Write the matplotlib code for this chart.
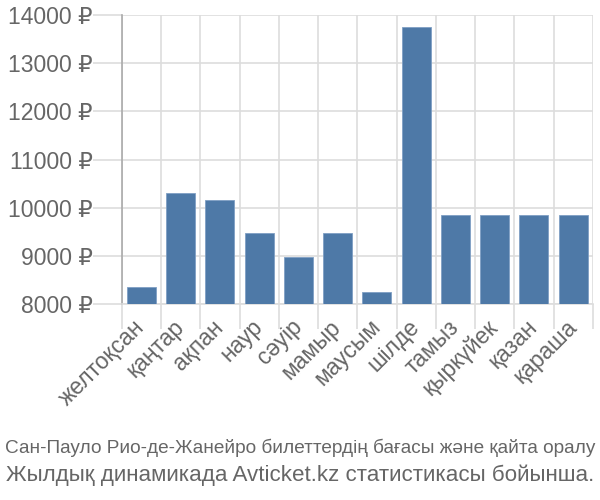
import numpy as np
import matplotlib.pyplot as plt

# Months and average prices (rubles)
months = ["желтоқсан", "қаңтар", "ақпан", "наур", "сәуір", "мамыр",
          "маусым", "шілде", "тамыз", "қыркүйек", "қазан", "қараша"]
prices = [8350, 10300, 10160, 9470, 8980, 9470,
          8250, 13750, 9850, 9850, 9850, 9850]
yticks = [8000, 9000, 10000, 11000, 12000, 13000, 14000]
caption = ["Сан-Пауло Рио-де-Жанейро билеттердің бағасы және қайта оралу",
           "Жылдық динамикада Avticket.kz статистикасы бойынша."]

plt.rcParams['font.family'] = ['Liberation Sans', 'DejaVu Sans']
text_color = '#666666'
grid_color = '#dddddd'

fig = plt.figure(figsize=(6, 5), dpi=100)
ax = fig.add_axes([0.203, 0.392, 0.785, 0.578])

x = np.arange(len(months))
ax.bar(x, [p - 8000 for p in prices], bottom=8000, width=0.74,
       color='#4e79a7', edgecolor='#7f9fc4', linewidth=0.6, zorder=3)

ax.set_xlim(-0.5, len(months) - 0.5)
ax.set_ylim(8000, 14000)

ax.set_yticks(yticks)
ax.set_yticklabels([f"{v} ₽" for v in yticks])
ax.set_xticks(x)
ax.set_xticklabels(months, rotation=45, ha='right', va='center',
                   rotation_mode='anchor')
ax.set_xticks(np.arange(len(months) + 1) - 0.5, minor=True)

ax.tick_params(axis='y', length=21, width=1.2, color=grid_color,
               labelsize=16.5, labelcolor=text_color, pad=0)
ax.tick_params(axis='x', which='major', length=0, labelsize=16.5,
               labelcolor=text_color, pad=14)
ax.tick_params(axis='x', which='minor', length=18, width=1.2,
               color=grid_color)

ax.grid(axis='y', color=grid_color, linewidth=1.2, zorder=0)
ax.grid(axis='x', which='minor', color=grid_color, linewidth=1.2, zorder=0)

for s in ['top', 'right']:
    ax.spines[s].set_visible(False)
ax.spines['left'].set_color('#aaaaaa')
ax.spines['left'].set_linewidth(1.2)
ax.spines['bottom'].set_color(grid_color)
ax.spines['bottom'].set_linewidth(1.2)

# caption lines, each sized to span the figure width
t1 = fig.text(0.5, 0.104, caption[0], ha='center', va='center', fontsize=14,
              color=text_color)
t2 = fig.text(0.5, 0.05, caption[1], ha='center', va='center', fontsize=14,
              color=text_color)
fig.canvas.draw()
r = fig.canvas.get_renderer()
for t in (t1, t2):
    w = t.get_window_extent(r).width
    t.set_fontsize(14 * 594 / w)

plt.savefig('out.png', dpi=100)
